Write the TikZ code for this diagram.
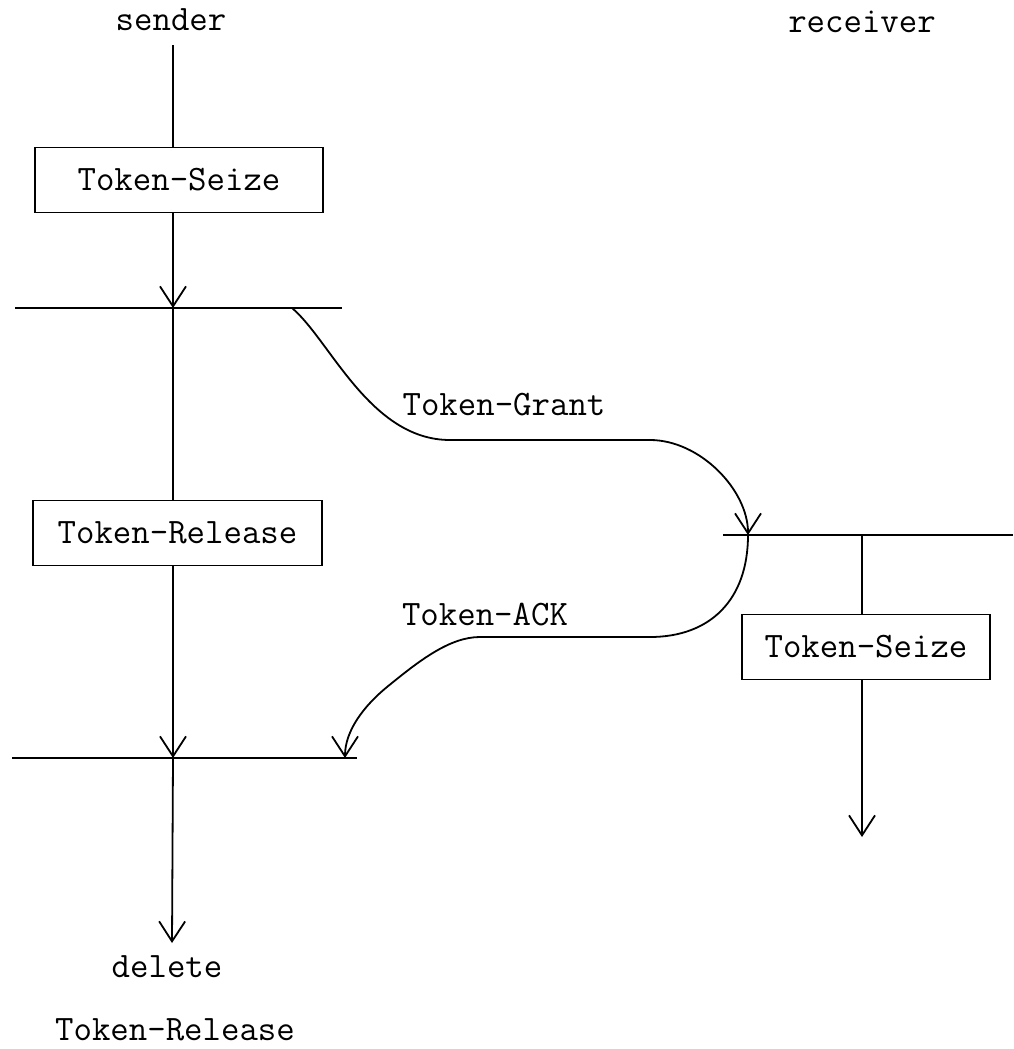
\documentclass[tikz,border=0pt]{standalone}
\usepackage{xcolor}
\usetikzlibrary{arrows.meta, positioning}

\begin{document}
\begin{tikzpicture}[
			x=0.5pt, y=-0.5pt,
			line width=0.9pt,
			font=\ttfamily\fontsize{17.9}{21}\selectfont,
			BoxCfg/.style={
				draw, inner sep=0pt,
				minimum height=32.5pt
			},
			ArrCfg/.style={
				-{Straight Barb[length=10pt, width=13pt, line width=0.9pt]}
			}
			]
			
			\useasboundingbox (0,0) rectangle (1013,1049);
			
			\path
			(171,20) node (Sender) {sender}
			(862,22) node (Receiver) {receiver}
			(179,180) node [BoxCfg, minimum width=144pt] (SeizeS) {Token-Seize}
			(177.5,533) node [BoxCfg, minimum width=144.5pt] (ReleaseS) {Token-Release}
			(866,647) node [BoxCfg, minimum width=124pt] (SeizeR) {Token-Seize}
			(167,967) node (Delete) {delete}
			(175,1030) node (DelRel) {Token-Release}
			(504,405) node (Grant) {Token-Grant}
			(485,615) node (Ack) {Token-ACK};
			
			% bars
			\coordinate (TopS) at (173,45);
			\coordinate (BarAw) at (15,308);
			\coordinate (BarAe) at (342,308);
			\coordinate (BarA) at (173,308);
			\coordinate (GrantStart) at (292,308);
			\coordinate (BarBw) at (12,758);
			\coordinate (BarBe) at (357,758);
			\coordinate (BarB) at (173,758);
			\coordinate (AckEnd) at (345,758);
			\coordinate (BarCw) at (723,535);
			\coordinate (BarCe) at (1013,535);
			\coordinate (BarC) at (862,535);
			\coordinate (GrantEnd) at (748,535);
			\coordinate (EndS) at (172,943);
			\coordinate (EndR) at (862,837);
			
			\draw
			(BarAw) -- (BarAe)
			(BarBw) -- (BarBe)
			(BarCw) -- (BarCe);
			
			\draw
			(TopS) -- (TopS |- SeizeS.north)
			(BarA) -- (BarA |- ReleaseS.north)
			(BarC) -- (BarC |- SeizeR.north);
			
			\draw [ArrCfg] (SeizeS.south -| BarA) -- (BarA);
			\draw [ArrCfg] (ReleaseS.south -| BarB) -- (BarB);
			\draw [ArrCfg] (BarB) -- (EndS);
			\draw [ArrCfg] (SeizeR.south -| BarC) -- (EndR);
			
			% Token-Grant and Token-ACK
			\draw [ArrCfg] (GrantStart) .. controls (330,340) and (370,440) .. (450,440)
			-- (650,440) .. controls (700,440) and (748,490) .. (GrantEnd);
			\draw [ArrCfg] (GrantEnd) .. controls (748,600) and (710,637) .. (650,637)
			-- (480,637) .. controls (450,637) and (420,660) .. (387,687)
			.. controls (365,705) and (345,730) .. (AckEnd);
		\end{tikzpicture}
\end{document}
